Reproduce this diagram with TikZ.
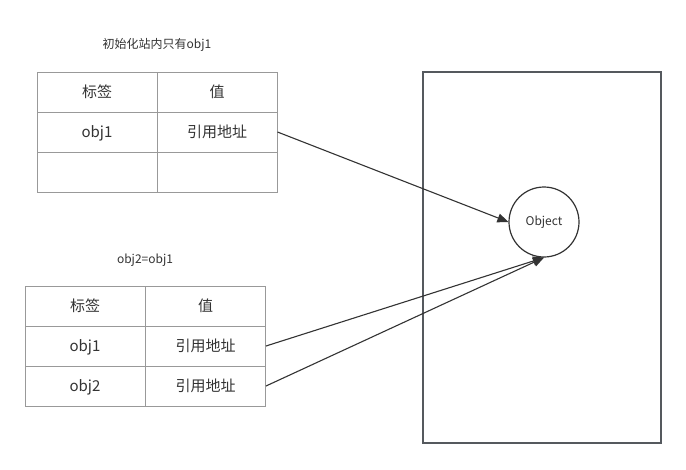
\documentclass[tikz,border=0pt]{standalone}
\usepackage{fontspec}
\setmainfont{Noto Sans CJK SC}
\usetikzlibrary{arrows.meta}
\definecolor{txt}{HTML}{333333}
\definecolor{tline}{HTML}{999999}
\definecolor{rline}{HTML}{55595E}
\tikzset{
  cell/.style={draw=tline, line width=1pt, minimum width=120pt, minimum height=40pt, inner sep=0pt, text height=12.5pt, text depth=1.5pt, text=txt, font=\fontsize{15pt}{17pt}\selectfont},
  ttl/.style={text=txt, font=\fontsize{12pt}{14pt}\selectfont},
  conn/.style={draw=txt, line width=1.1pt, -{Triangle[length=11pt,width=9pt]}}
}
\begin{document}
\begin{tikzpicture}[x=1pt,y=-1pt]
\useasboundingbox[fill=white] (0,0) rectangle (686,469);
% big rectangle
\node[draw=rline, line width=1.8pt, minimum width=238pt, minimum height=371pt, inner sep=0pt] (mem) at (542,257.5) {};
% object circle
\node[circle, draw=txt, line width=1.2pt, minimum size=70pt, inner sep=0pt, text=txt, font=\fontsize{12pt}{14pt}\selectfont] (obj) at (544,222) {Object};
% table 1
\node[ttl] (t1title) at (157,45) {初始化站内只有obj1};
\node[cell] (t1h1) at (97,92) {标签};
\node[cell] (t1h2) at (217,92) {值};
\node[cell] (t1k1) at (97,132) {obj1};
\node[cell] (t1v1) at (217,132) {引用地址};
\node[cell] (t1k2) at (97,172) {};
\node[cell] (t1v2) at (217,172) {};
% table 2
\node[ttl] (t2title) at (145,260) {obj2=obj1};
\node[cell] (t2h1) at (85,306) {标签};
\node[cell] (t2h2) at (205.5,306) {值};
\node[cell] (t2k1) at (85,346) {obj1};
\node[cell] (t2v1) at (205.5,346) {引用地址};
\node[cell] (t2k2) at (85,386) {obj2};
\node[cell] (t2v2) at (205.5,386) {引用地址};
% connectors
\draw[conn] (t1v1.east) -- (obj.west);
\draw[conn] (t2v1.east) -- (obj.south);
\draw[conn] (t2v2.east) -- (obj.south);
\end{tikzpicture}
\end{document}
